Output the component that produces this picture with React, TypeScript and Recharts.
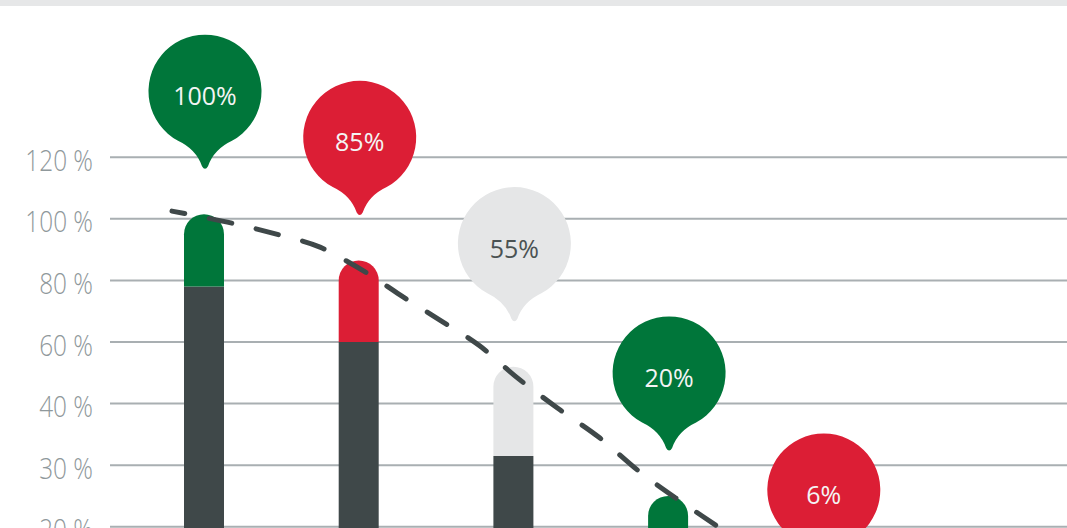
import React from 'react';
import { ComposedChart, Bar, Line, XAxis, YAxis, CartesianGrid, LabelList, Cell } from 'recharts';

// ---- data ----
const categories = ['1', '2', '3', '4', '5'];
const baseValues = [78, 60, 31.5, 14, 3]; // dark lower part (%)
const totalValues = [101.5, 86.5, 52, 25, 6]; // top of the bar (%)
const calloutLabels = ['100%', '85%', '55%', '20%', '6%'];
const tickValues = [20, 30, 40, 60, 80, 100, 120];
const tickLabels = ['20 %', '30 %', '40 %', '60 %', '80 %', '100 %', '120 %'];
// dashed trend (x in category units, y in %)
const trendX = [-0.209, 0.005, 0.231, 0.489, 0.748, 0.909, 1.071, 1.265, 1.523, 1.782, 2.008, 2.299, 2.558, 2.816, 3.075, 3.334, 3.59];
const trendY = [102.5, 100.4, 98.0, 94.7, 90.8, 86.6, 81.8, 75.3, 67.1, 58.7, 49.0, 39.0, 34.4, 28.9, 24.2, 19.8, 15.3];

// ---- styles ----
const topColors = ['#00763a', '#dc1e35', '#e5e6e7', '#00763a', '#dc1e35'];
const textColors = ['#f4f4f4', '#f4f4f4', '#4a5253', '#f4f4f4', '#f4f4f4'];
const DARK = '#3f4849';

// axis is piecewise: 20-40 in 10 steps, 40-120 in 20 steps, equally spaced
const toPos = (v: number) => (v <= 40 ? v / 10 : 4 + (v - 40) / 20);

const barData = categories.map((name, i) => ({
  name,
  base: toPos(baseValues[i]),
  top: toPos(totalValues[i]) - toPos(baseValues[i]),
}));
const trendData = trendX.map((u, i) => ({ u, p: toPos(trendY[i]) }));
const ticks = tickValues.map(toPos);
const labelFor = (p: number) => tickLabels[ticks.findIndex((t) => Math.abs(t - p) < 1e-6)] ?? '';

const YTick = (props: any) => {
  const { x, y, payload } = props;
  return (
    <g transform={`translate(${x},${y + 13.5}) scale(0.84,1)`}>
      <text
        x={0}
        y={0}
        textAnchor="end"
        fontSize={29}
        fontWeight={300}
        fill="#8f989b"
        fontFamily="'Open Sans', 'Noto Sans', sans-serif"
      >
        {labelFor(payload.value)}
      </text>
    </g>
  );
};

const Pin = (props: any) => {
  const { x, y, width, index } = props;
  const cx = x + width / 2 + 1;
  const tipY = y - 45;
  const cy = tipY - 78;
  const r = 56.5;
  const d = `M ${cx - 27} ${cy + 49.6} A ${r} ${r} 0 1 1 ${cx + 27} ${cy + 49.6} Q ${cx + 9} ${cy + 58} ${cx + 3} ${cy + 75} Q ${cx} ${cy + 80} ${cx - 3} ${cy + 75} Q ${cx - 9} ${cy + 58} ${cx - 27} ${cy + 49.6} Z`;
  return (
    <g>
      <path d={d} fill={topColors[index]} />
      <text
        x={cx}
        y={cy + 4}
        textAnchor="middle"
        dominantBaseline="central"
        fontSize={25}
        fill={textColors[index]}
        fontFamily="'Open Sans', 'Noto Sans', sans-serif"
      >
        {calloutLabels[index]}
      </text>
    </g>
  );
};

export default function App() {
  return (
    <div style={{ position: 'absolute', left: 0, top: 0, width: 1067, height: 528, overflow: 'hidden', background: '#fff' }}>
      <ComposedChart width={1067} height={650} data={barData} margin={{ top: 0, right: 0, bottom: 0, left: 0 }}>
        <CartesianGrid vertical={false} stroke="#a9afb2" strokeWidth={2} />
        <XAxis xAxisId="c" dataKey="name" hide padding={{ left: 17, right: 166.5 }} />
        <XAxis xAxisId="t" type="number" dataKey="u" hide domain={[-0.6096, 5.577]} allowDataOverflow />
        <YAxis
          type="number"
          domain={[0, 10.552]}
          ticks={ticks}
          width={110}
          axisLine={false}
          tickLine={false}
          tickSize={0}
          tickMargin={17}
          tick={<YTick />}
          interval={0}
        />
        <Bar xAxisId="c" dataKey="base" stackId="s" fill={DARK} barSize={40} isAnimationActive={false} />
        <Bar xAxisId="c" dataKey="top" stackId="s" barSize={40} radius={[20, 20, 0, 0]} isAnimationActive={false}>
          {barData.map((_, i) => (
            <Cell key={i} fill={topColors[i]} />
          ))}
          <LabelList dataKey="top" content={<Pin />} />
        </Bar>
        <Line
          xAxisId="t"
          data={trendData}
          dataKey="p"
          type="monotone"
          stroke={DARK}
          strokeWidth={5}
          strokeDasharray="23 25"
          strokeDashoffset={10}
          strokeLinecap="round"
          dot={false}
          activeDot={false}
          isAnimationActive={false}
        />
      </ComposedChart>
      <div style={{ position: 'absolute', left: 0, top: 0, width: 1067, height: 6, background: '#e6e7e8' }} />
    </div>
  );
}
